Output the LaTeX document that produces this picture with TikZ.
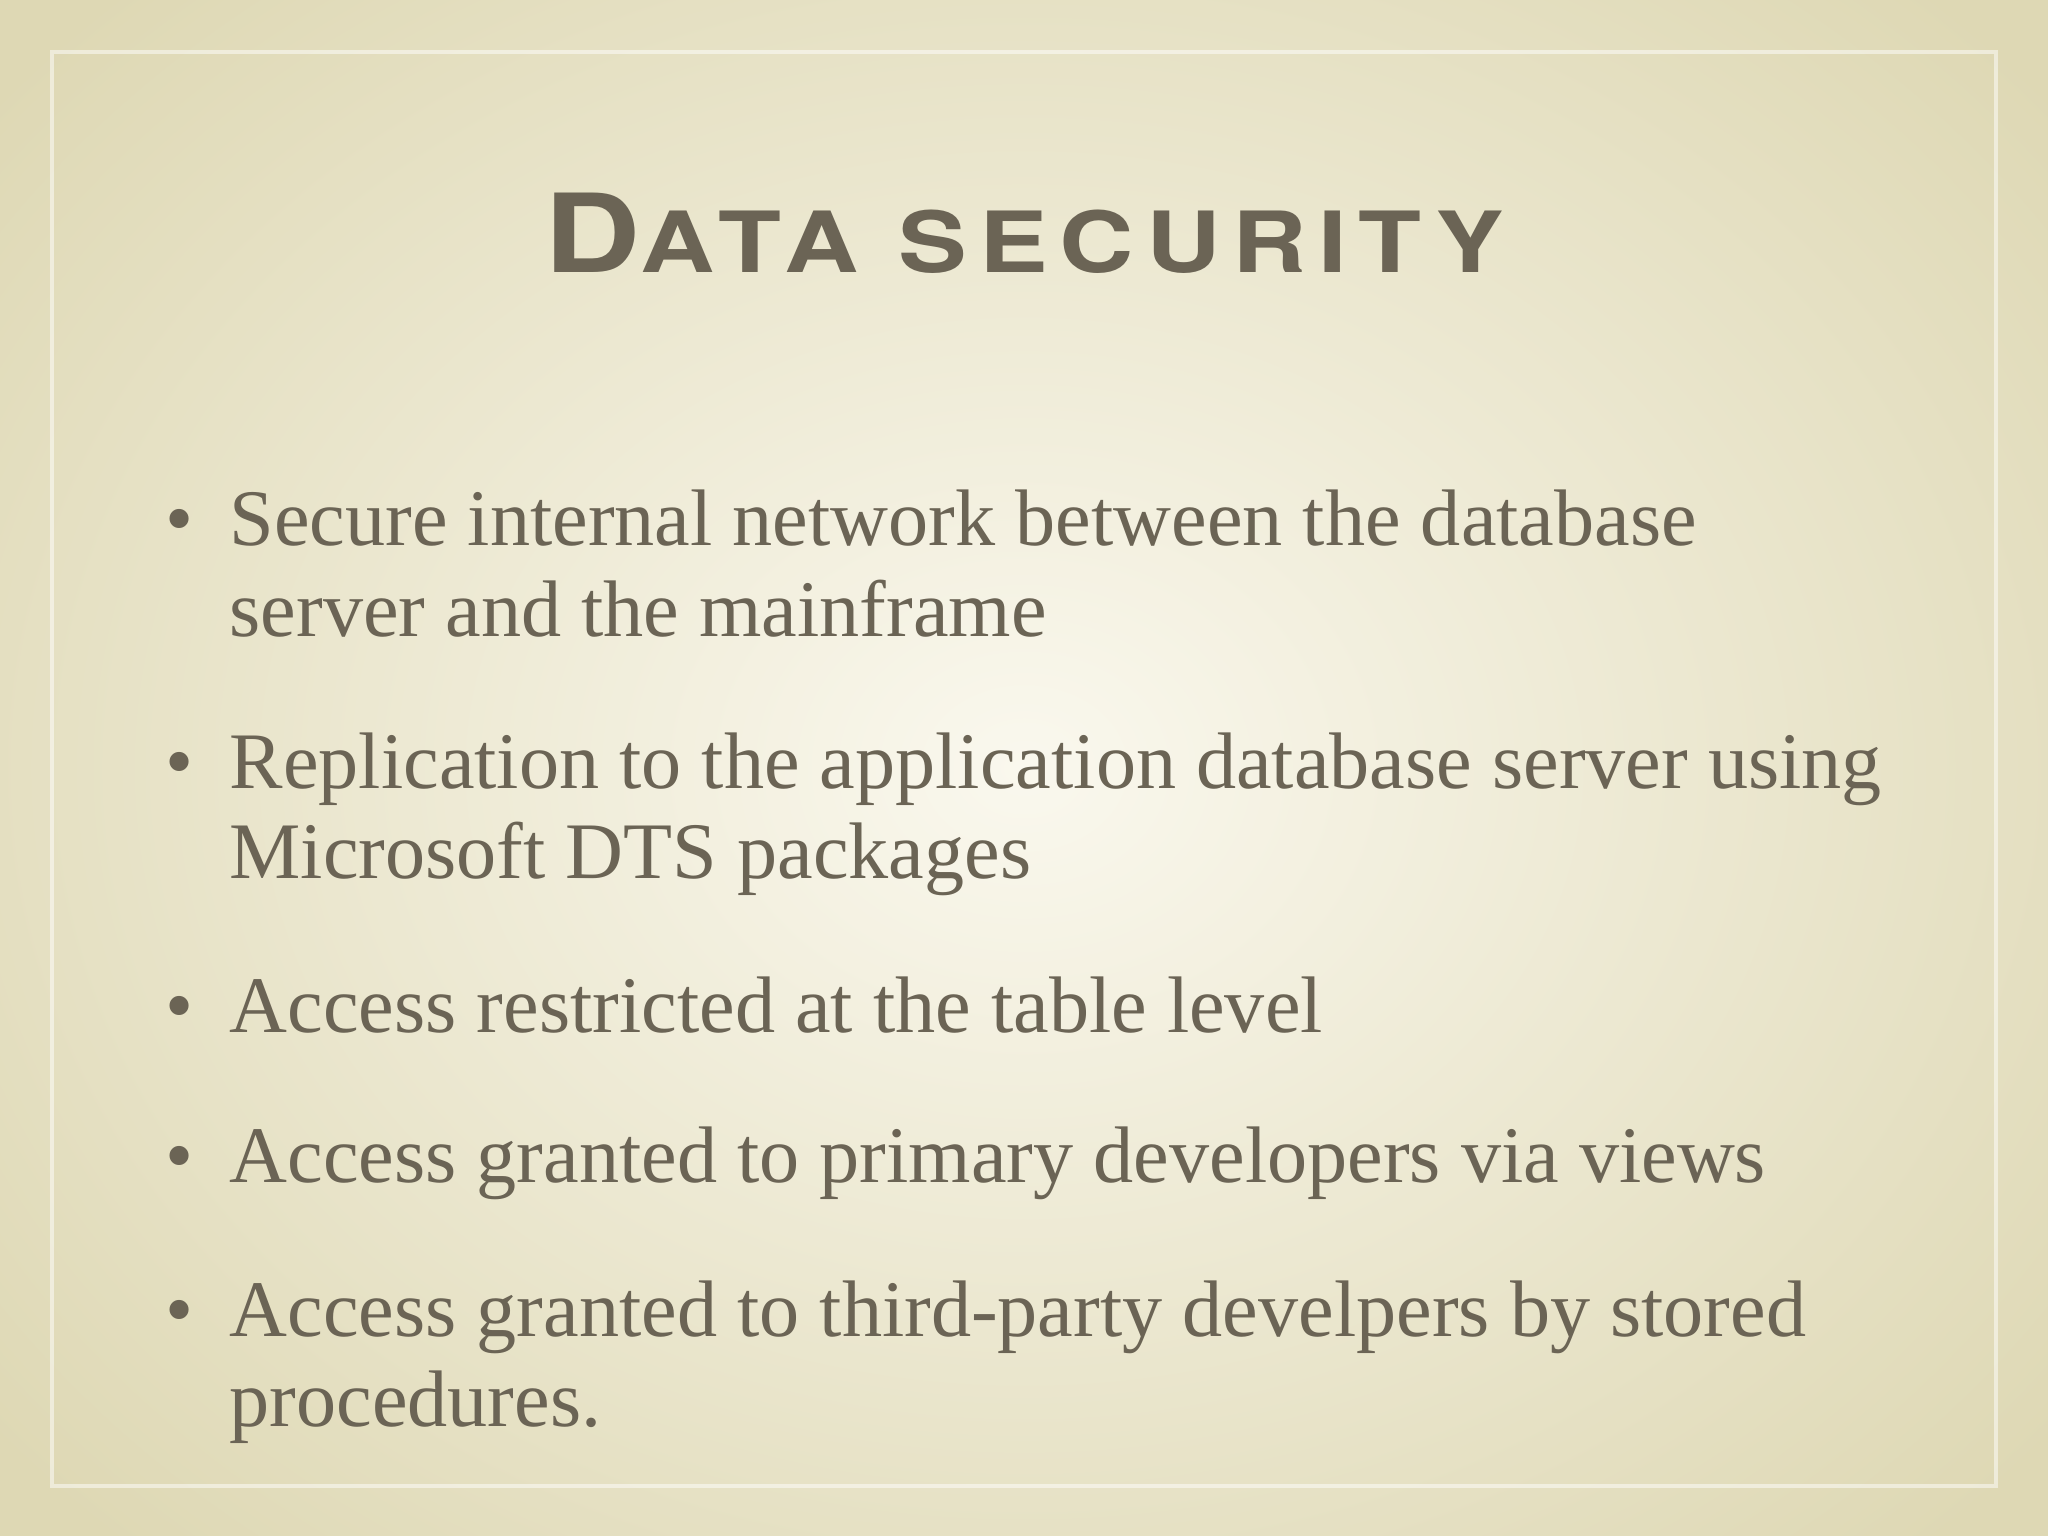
\documentclass[tikz,border=0pt]{standalone}
\usepackage{fontspec}
\setmainfont{Liberation Serif}
\newfontfamily\titlefont[LetterSpace=14,FakeStretch=1.22]{TeX Gyre Heros}
\definecolor{ink}{HTML}{6B6455}
\definecolor{bgin}{HTML}{FAF8EE}
\definecolor{bgout}{HTML}{DED8B4}
\begin{document}
\begin{tikzpicture}[x=0.01cm,y=-0.01cm,
  line/.style={anchor=base west,inner sep=0,text=ink,font=\fontsize{22.8}{28}\selectfont},
  bul/.style={anchor=base,inner sep=0,text=ink,font=\fontsize{22.8}{28}\selectfont}]
\useasboundingbox (0,0) rectangle (2048,1536);
\shade[inner color=bgin,outer color=bgout] (-300,-300) rectangle (2348,1836);
\draw[white,opacity=0.5,line width=1pt] (52,52) rectangle (1996,1486);
\node[anchor=base,inner sep=0,text=ink] (title) at (1024,272)
  {\titlefont\bfseries\fontsize{31}{36}\selectfont D\fontsize{24}{30}\selectfont ATA SECURITY};
\foreach \n/\y in {b1/545,b2/788,b3/1032,b4/1182,b5/1336}
  \node[bul] (\n) at (180,\y) {•};
\node[line] (l1) at (229,545) {Secure internal network between the database};
\node[line] (l2) at (229,636) {server and the mainframe};
\node[line] (l3) at (229,788) {Replication to the application database server using};
\node[line] (l4) at (229,878) {Microsoft DTS packages};
\node[line] (l5) at (229,1032) {Access restricted at the table level};
\node[line] (l6) at (229,1182) {Access granted to primary developers via views};
\node[line] (l7) at (229,1336) {Access granted to third-party develpers by stored};
\node[line] (l8) at (229,1426) {procedures.};
\end{tikzpicture}
\end{document}
